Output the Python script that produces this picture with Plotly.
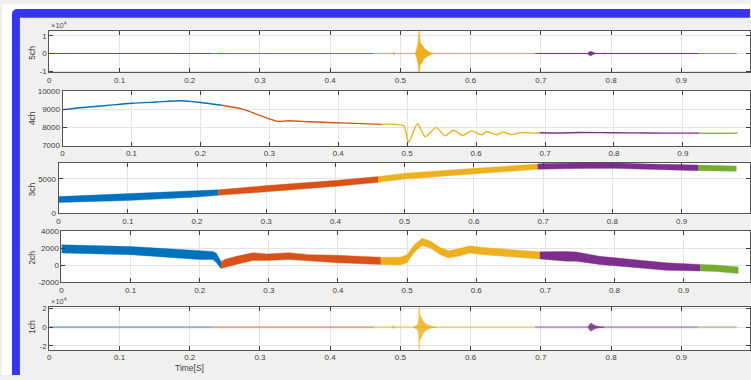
import plotly.graph_objects as go

W, H = 751, 380

# ---------------- data ----------------
SEG_COLORS = ["#0072BD", "#D95319", "#EDB120", "#7E2F8E", "#77AC30"]
SEG_BOUNDS = [0.0, 0.231, 0.462, 0.692, 0.924, 0.979]

X_TICKS = [0, 0.1, 0.2, 0.3, 0.4, 0.5, 0.6, 0.7, 0.8, 0.9, 1.0]
X_TICK_LABELS = ["0", "0.1", "0.2", "0.3", "0.4", "0.5", "0.6", "0.7", "0.8", "0.9", "1"]

CH_NAMES = ["5ch", "4ch", "3ch", "2ch", "1ch"]

# 5ch : flat line at 0 with bursts (envelope amplitude)
ch5_level = 0
ch5_blip_t = [0.4885, 0.4905, 0.4925]
ch5_blip_amp = [0, 700, 0]
ch5_burst_t = [0.521, 0.523, 0.5253, 0.5267, 0.528, 0.530, 0.534, 0.5386, 0.5433, 0.548]
ch5_burst_amp = [0, 2000, 6000, 14000, 6500, 5500, 3000, 1500, 500, 0]
ch5_burst2_t = [0.7665, 0.769, 0.7715, 0.775, 0.779]
ch5_burst2_amp = [0, 1000, 1100, 400, 0]
ch5_dot_t = [0.7890, 0.7905, 0.7920]
ch5_dot_amp = [0, 300, 0]

# 4ch : thin line
ch4_t = [0, 0.03, 0.064, 0.101, 0.136, 0.172, 0.198, 0.231, 0.261, 0.30, 0.312,
         0.328, 0.357, 0.396, 0.425, 0.462, 0.495, 0.502, 0.515, 0.526, 0.542,
         0.555, 0.567, 0.581, 0.593, 0.608, 0.615, 0.630, 0.639, 0.651, 0.666,
         0.687, 0.692, 0.72, 0.75, 0.80, 0.85, 0.90, 0.924, 0.95, 0.979]
ch4_v = [8970, 9090, 9200, 9320, 9390, 9460, 9375, 9210, 9000, 8464, 8330,
         8360, 8310, 8250, 8215, 8161, 8070, 7180, 8197, 7482, 7982,
         7536, 7839, 7560, 7804, 7589, 7768, 7590, 7750, 7600, 7714,
         7679, 7700, 7690, 7720, 7700, 7690, 7680, 7680, 7670, 7680]

# 3ch : noisy band (upper / lower envelope)
ch3_t = [0, 0.1, 0.2, 0.231, 0.301, 0.403, 0.462, 0.501, 0.601, 0.692, 0.701,
         0.75, 0.800, 0.854, 0.924, 0.979]
ch3_hi = [2410, 2830, 3210, 3400, 4010, 4770, 5330, 5800, 6510, 7130, 7220,
          7300, 7310, 7130, 6990, 6840]
ch3_lo = [1560, 1840, 2360, 2600, 3120, 3920, 4480, 4960, 5710, 6370, 6370,
          6500, 6510, 6370, 6180, 6090]

# 2ch : noisy band (upper / lower envelope)
ch2_t = [0, 0.1, 0.155, 0.2, 0.219, 0.224, 0.229, 0.231, 0.236, 0.253, 0.277,
         0.297, 0.329, 0.358, 0.399, 0.462, 0.490, 0.500, 0.5095, 0.5216, 0.5336,
         0.548, 0.560, 0.574, 0.591, 0.610, 0.649, 0.692, 0.7305, 0.745, 0.7785,
         0.8265, 0.8746, 0.924, 0.9467, 0.979]
ch2_hi = [2390, 2190, 1920, 1690, 1614, 1400, 700, 400, 650, 1037, 1461,
          1307, 1461, 1230, 1153, 922, 922, 1230, 2307, 3153, 2845,
          2076, 1691, 1922, 2268, 2076, 1807, 1560, 1614, 1537, 1037,
          653, 268, 76, -1, -232]
ch2_lo = [1420, 1230, 920, 650, 650, 300, -250, -400, -300, 76, 538,
          538, 653, 460, 268, 76, -1, 268, 1422, 2307, 1999,
          1230, 845, 1037, 1422, 1230, 960, 720, 460, 460, 76,
          -309, -617, -694, -771, -1002]

# 1ch : flat line at 0 with bursts
ch1_level = 0
ch1_blip_t = [0.488, 0.490, 0.492]
ch1_blip_amp = [0, 1500, 0]
ch1_burst_t = [0.518, 0.521, 0.5245, 0.5262, 0.5267, 0.5275, 0.529, 0.532, 0.536,
               0.541, 0.546, 0.551]
ch1_burst_amp = [0, 1200, 2500, 8000, 25000, 14000, 12000, 7000, 3500, 1500, 400, 0]
ch1_burst2_t = [0.767, 0.770, 0.772, 0.776, 0.782, 0.790]
ch1_burst2_amp = [0, 3500, 4200, 2000, 600, 0]

# axes ticks
Y_TICKVALS = [[-10000, 0, 10000], [7000, 8000, 9000, 10000], [0, 5000],
              [-2000, 0, 2000, 4000], [-20000, 0, 20000]]
Y_TICKTEXT = [["-1", "0", "1"], ["7000", "8000", "9000", "10000"], ["0", "5000"],
              ["-2000", "0", "2000", "4000"], ["-2", "0", "2"]]
Y_RANGES = [[-10700, 12600], [7000, 10000], [0, 7340], [-2000, 4000], [-24200, 22100]]

# ---------------- layout geometry (pixels) ----------------
AX_LEFT = [47.5, 60.8, 56.8, 59.7, 47.5]
AX_SCALE = [705, 692, 695, 694, 705]         # px per 1.0 s
AX_TOP = [28, 89, 162.5, 232.7, 310]
AX_BOTTOM = [70, 145, 214.3, 284.7, 354]
TITLE_Y = [50, 117, 190, 260, 331]

FONT = "Liberation Sans, Arial, Helvetica, sans-serif"
fig = go.Figure()


def in_seg(ts, i):
    a, b = SEG_BOUNDS[i], SEG_BOUNDS[i + 1]
    return [k for k, t in enumerate(ts) if a - 1e-9 <= t <= b + 1e-9]


def seg_of(t):
    for i in range(5):
        if SEG_BOUNDS[i] <= t <= SEG_BOUNDS[i + 1]:
            return i
    return 4


def axn(i):
    return "" if i == 0 else str(i + 1)


def add_band(ts, hi, lo, i_ax, opacity=1.0):
    for s in range(5):
        idx = in_seg(ts, s)
        if len(idx) < 2:
            continue
        xs = [ts[k] for k in idx]
        yh = [hi[k] for k in idx]
        yl = [lo[k] for k in idx]
        fig.add_trace(go.Scatter(
            x=xs + xs[::-1], y=yh + yl[::-1], mode="lines", fill="toself",
            fillcolor=SEG_COLORS[s], line=dict(color=SEG_COLORS[s], width=0.4),
            opacity=opacity, hoverinfo="skip", showlegend=False,
            xaxis="x" + axn(i_ax), yaxis="y" + axn(i_ax)))


def add_burst(ts, amp, i_ax, opacity=1.0):
    s = seg_of(ts[len(ts) // 2])
    neg = [-a for a in amp]
    fig.add_trace(go.Scatter(
        x=ts + ts[::-1], y=amp + neg[::-1], mode="lines", fill="toself",
        fillcolor=SEG_COLORS[s], line=dict(color=SEG_COLORS[s], width=0.6),
        opacity=opacity, hoverinfo="skip", showlegend=False,
        xaxis="x" + axn(i_ax), yaxis="y" + axn(i_ax)))


def add_level(level, i_ax, width, opacity):
    for s in range(5):
        fig.add_trace(go.Scatter(
            x=[SEG_BOUNDS[s], SEG_BOUNDS[s + 1]], y=[level, level], mode="lines",
            line=dict(color=SEG_COLORS[s], width=width), opacity=opacity,
            hoverinfo="skip", showlegend=False,
            xaxis="x" + axn(i_ax), yaxis="y" + axn(i_ax)))


# 5ch
add_level(ch5_level, 0, 1.0, 1.0)
add_burst(ch5_blip_t, ch5_blip_amp, 0)
add_burst(ch5_burst_t, ch5_burst_amp, 0)
add_burst(ch5_burst2_t, ch5_burst2_amp, 0)
add_burst(ch5_dot_t, ch5_dot_amp, 0)

# 4ch
for s in range(5):
    idx = in_seg(ch4_t, s)
    fig.add_trace(go.Scatter(
        x=[ch4_t[k] for k in idx], y=[ch4_v[k] for k in idx], mode="lines",
        line=dict(color=SEG_COLORS[s], width=1.4, shape="spline", smoothing=0.7),
        hoverinfo="skip", showlegend=False, xaxis="x2", yaxis="y2"))

# 3ch, 2ch
add_band(ch3_t, ch3_hi, ch3_lo, 2)
add_band(ch2_t, ch2_hi, ch2_lo, 3)

# 1ch
add_level(ch1_level, 4, 2.2, 0.4)
add_burst(ch1_blip_t, ch1_blip_amp, 4, 0.85)
add_burst(ch1_burst_t, ch1_burst_amp, 4, 0.85)
add_burst(ch1_burst2_t, ch1_burst2_amp, 4, 0.85)

# ---------------- axes ----------------
layout = dict(
    width=W, height=H, autosize=False,
    margin=dict(l=0, r=0, t=0, b=0, pad=0),
    paper_bgcolor="#f0f0f0", plot_bgcolor="#ffffff",
    showlegend=False, font=dict(family=FONT, size=8, color="#404040"),
)

axis_common = dict(showline=True, linecolor="#555555", linewidth=1, mirror="ticks",
                   ticks="inside", ticklen=4, tickwidth=1, tickcolor="#404040",
                   showgrid=True, gridcolor="#e3e3e3", gridwidth=1, zeroline=False,
                   tickfont=dict(family=FONT, size=8, color="#404040"),
                   fixedrange=True)

for i in range(5):
    xr = (W - AX_LEFT[i]) / AX_SCALE[i]
    layout["xaxis" + axn(i)] = dict(
        axis_common, domain=[AX_LEFT[i] / W, 1.0], range=[0, xr],
        tickmode="array", tickvals=X_TICKS, ticktext=X_TICK_LABELS,
        anchor="y" + axn(i))
    layout["yaxis" + axn(i)] = dict(
        axis_common, domain=[1 - AX_BOTTOM[i] / H, 1 - AX_TOP[i] / H],
        range=Y_RANGES[i], tickmode="array", tickvals=Y_TICKVALS[i],
        ticktext=Y_TICKTEXT[i], anchor="x" + axn(i))

fig.update_layout(**layout)

# ---------------- window frame ----------------
def px(x):
    return x / W


def py(y):
    return 1 - y / H


shapes = [
    dict(type="rect", xref="paper", yref="paper", x0=0, x1=1, y0=py(14), y1=1,
         fillcolor="#ffffff", line=dict(width=0), layer="below"),
    dict(type="rect", xref="paper", yref="paper", x0=0, x1=px(18), y0=0, y1=1,
         fillcolor="#ffffff", line=dict(width=0), layer="below"),
    dict(type="path", xref="paper", yref="paper", layer="below",
         path=(f"M {px(10)} {py(H)} L {px(10)} {py(11)} Q {px(10)} {py(5)} {px(16)} {py(5)} "
               f"L {px(W)} {py(5)} L {px(W)} {py(14)} L {px(18)} {py(14)} L {px(18)} {py(H)} Z"),
         fillcolor="#3535f2", line=dict(width=0)),
]
fig.update_layout(shapes=shapes)

# ---------------- texts ----------------
ann = []
for i in range(5):
    ann.append(dict(text=CH_NAMES[i], xref="paper", yref="paper", x=px(30), y=py(TITLE_Y[i]),
                    showarrow=False, textangle=-90, xanchor="center", yanchor="middle",
                    font=dict(family=FONT, size=8.5, color="#404040")))
for yy in (21, 304):
    ann.append(dict(text="×10<sup>4</sup>", xref="paper", yref="paper", x=px(47), y=py(yy),
                    showarrow=False, xanchor="left", yanchor="middle",
                    font=dict(family=FONT, size=7.5, color="#505050")))
ann.append(dict(text="Time[S]", xref="paper", yref="paper", x=px(188), y=py(373),
                showarrow=False, xanchor="center", yanchor="middle",
                font=dict(family=FONT, size=8.5, color="#404040")))
fig.update_layout(annotations=ann)

fig.write_html("out.html", config={"displayModeBar": False, "staticPlot": True},
               post_script="document.body.style.margin='0';document.body.style.overflow='hidden';")
